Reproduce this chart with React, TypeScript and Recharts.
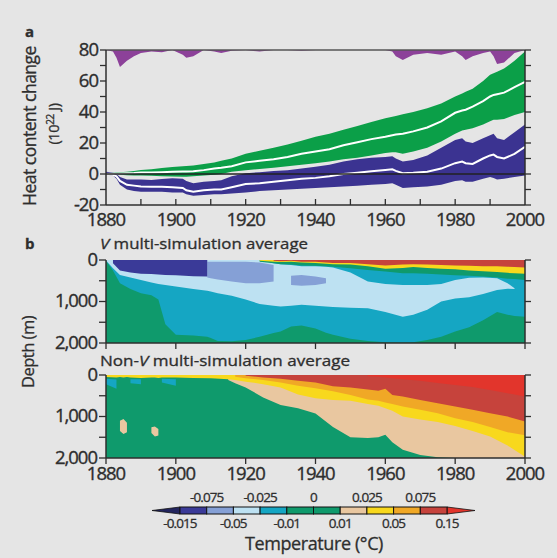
import React from 'react';
import { ComposedChart, Area, Line, XAxis, YAxis, ReferenceLine } from 'recharts';

const FONT = '"Open Sans", "Noto Sans", sans-serif';
const INK = '#2e2e2e';
const BG = '#e5e5e5';

// ---------- Panel a: heat content change (10^22 J) ----------
const A_YEARS = [1880,1882,1883,1884,1886,1888,1890,1893,1896,1899,1902,1903,1905,1908,1911,1913,1916,1920,1924,1928,1932,1936,1940,1944,1948,1952,1956,1960,1962,1963,1965,1968,1972,1976,1980,1982,1983,1985,1988,1990,1991,1992,1994,1997,2000];
const GREEN_LOW = [-0.5,-0.2,-0.2,-0.5,-0.8,-1,-1,-1.2,-1.5,-1.6,-1.7,-1.7,-1.5,-1,-0.5,0,1.5,2.5,3.2,4,5,6,7,8,9.5,10.5,12,13.5,14,14,13,14.5,17,21,26,28,28.5,29.5,32,34,35,35,35.5,38,40];
const GREEN_MEAN = [0,0.3,0.4,0.4,0.5,0.6,0.9,1,1.2,1.4,1.6,1.6,1.8,2.5,3.5,4,5,7.5,8.5,9.5,11,13,14.5,16,18.5,20.5,22.5,24,25,25.5,26,27.5,30,34,39.5,41,41.5,43.5,47,50,51,51.5,52.5,56,59.5];
const GREEN_HIGH = [0.8,1,1.1,1.2,1.5,2,2.6,3,3.8,4.5,5,5.2,5.5,6.5,7.5,8.5,10,13,15,17,19,21.5,24,26,28.5,31,33.5,36,37,37.5,38.5,40,42.5,45.5,50,52,53,55,60,64,65,66,68,73,79];
const BLUE_LOW = [-0.5,-1,-3,-7,-10,-11,-11.5,-11.5,-11.5,-12,-12,-13,-14,-13.5,-13,-13,-12.5,-12,-11,-10.5,-10,-9.5,-9,-8.5,-8,-7.5,-7,-6.5,-6,-7,-9,-8.5,-8,-7,-4.5,-4,-5,-5,-3,-2,-2.5,-3.5,-3,-2,-1];
const BLUE_MEAN = [0,-0.5,-1.5,-4.5,-7,-7.5,-8,-8.2,-8.2,-8.5,-9,-10.5,-11.5,-10.5,-10,-10,-8.5,-6.5,-6,-5,-4,-3,-2.5,-1.5,0,0.8,1.8,2.6,3,2,0.5,0.8,1.5,3.5,7,8,7,6.5,10,12,12.5,11,10,13,17.5];
const BLUE_HIGH = [1.5,1,0,-2,-3.5,-3.5,-3.6,-3.8,-3.2,-2.8,-3,-4.5,-6,-5,-4.5,-4,-1.5,0.5,1.2,2,2.5,3.5,4.7,6,8,9.5,10.5,11,11.5,10,8,9,12,17,22,23,21,20,23,25,26,23,22,27,32];
const VOLCANIC = [80,79,75,69,73,76,78,79,78.5,80,77,75,76,80,79,78,79.5,80,79,80,80,79.5,80,80,80,80,80,80,79,76,73.5,77,78,77,79,76,73.5,76,78,79,76,71,72,78,80];
const A_Y_TICKS = [-20,-10,0,10,20,30,40,50,60,70,80];
const A_X_TICKS = [1880,1890,1900,1910,1920,1930,1940,1950,1960,1970,1980,1990,2000];

const aData = A_YEARS.map((year, i) => ({
  year,
  green: [GREEN_LOW[i], GREEN_HIGH[i]],
  blue: [BLUE_LOW[i], BLUE_HIGH[i]],
  gm: GREEN_MEAN[i],
  bm: BLUE_MEAN[i],
  volc: [VOLCANIC[i], 80],
}));

// ---------- Panel b (top): V multi-simulation average, depth layers [top, bottom] in m ----------
type R = [number, number] | null;
const V_YEARS = [1880,1882,1884,1887,1890,1893,1895,1897,1900,1905,1909,1910,1912,1916,1920,1924,1928,1930,1933,1936,1940,1943,1945,1950,1955,1960,1965,1968,1972,1976,1980,1984,1988,1992,1995,1997,2000];
const V_CYAN: R[] = [[0,20],[0,250],[0,560],[0,700],[0,800],[0,850],[0,950],[0,1550],[0,1800],[0,1820],[0,1850],[0,1880],[0,1950],[0,1960],[0,1930],[0,1850],[0,1760],[0,1720],[0,1600],[0,1580],[0,1650],[0,1750],[0,1800],[0,1900],[0,1950],[0,1980],[0,1990],[0,1980],[0,1930],[0,1850],[0,1720],[0,1620],[0,1450],[0,1250],[0,1320],[0,1350],[0,1370]];
const V_PALE: R[] = [[0,10],[0,200],[0,360],[0,420],[0,480],[0,540],[0,580],[0,600],[0,640],[0,700],[0,740],[0,760],[0,800],[0,860],[0,950],[0,1060],[80,1100],[100,1120],[120,1100],[150,1080],[150,1100],[160,1120],[180,1130],[300,1150],[520,1160],[580,1250],[600,1370],[600,1320],[600,1200],[580,1000],[480,930],[430,900],[420,820],[440,720],[560,690],[680,700],null];
const V_LAVENDER: R[] = [null,null,null,null,null,null,null,null,null,null,[40,420],[40,440],[40,470],[40,520],[40,560],[60,560],[120,520],null,[380,600],[360,620],[400,600],[440,560],null,null,null,null,null,null,null,null,null,null,null,null,null,null,null];
const V_DARK: R[] = [null,[0,80],[0,250],[0,300],[0,330],[0,340],[0,350],[0,360],[0,370],[0,390],[0,400],null,null,null,null,null,null,null,null,null,null,null,null,null,null,null,null,null,null,null,null,null,null,null,null,null,null];
const V_GREEN_TOP: R[] = [null,null,null,null,null,null,null,null,null,null,null,null,null,null,null,[0,40],[0,80],[0,100],[0,110],[0,130],[0,140],[0,150],[0,160],[0,200],[0,240],[0,280],[0,320],[0,320],[0,330],[0,350],[0,370],[0,380],[0,400],[0,420],[0,450],[0,460],[0,480]];
const V_YELLOW: R[] = [null,null,null,null,null,null,null,null,null,null,null,null,null,null,null,[0,20],[0,40],[0,50],[0,40],[0,60],[0,70],[0,90],[0,100],[0,110],[0,150],[0,210],[0,190],[0,170],[0,190],[0,210],[0,220],[0,250],[0,270],[0,290],[0,310],[0,320],[0,330]];
const V_RED: R[] = [null,null,null,null,null,null,null,null,null,null,null,null,null,null,null,null,[0,20],[0,30],[0,20],[0,40],[0,40],[0,60],[0,70],[0,70],[0,100],[0,130],[0,110],[0,100],[0,110],[0,120],[0,130],[0,140],[0,150],[0,150],[0,160],[0,170],[0,180]];

const vData = V_YEARS.map((year, i) => ({
  year,
  cyan: V_CYAN[i], pale: V_PALE[i], lav: V_LAVENDER[i], dark: V_DARK[i],
  gtop: V_GREEN_TOP[i], yel: V_YELLOW[i], red: V_RED[i],
}));

// ---------- Panel b (bottom): Non-V multi-simulation average ----------
const NV_YEARS = [1880,1883,1884,1885,1886,1887,1890,1893,1894,1895,1896,1900,1905,1910,1915,1917,1920,1925,1930,1935,1940,1945,1950,1955,1958,1960,1962,1965,1970,1975,1980,1985,1990,1995,2000];
const NV_TAN: R[] = [null,null,[1100,1350],[1060,1420],[1150,1380],null,null,[1260,1400],[1240,1480],[1300,1460],null,null,null,null,[0,120],[0,200],[0,300],[0,540],[0,720],[0,800],[0,930],[0,1250],[0,1500],[0,1520],[0,1500],[0,1440],[0,1620],[0,1800],[0,1930],[0,1980],[0,2000],[0,2000],[0,2000],[0,2000],[0,2000]];
const NV_CYAN: R[] = [[90,220],[110,330],null,null,null,[100,200],[100,220],null,null,null,[90,180],[100,260],null,null,null,null,null,null,null,null,null,null,null,null,null,null,null,null,null,null,null,null,null,null,null];
const NV_YELLOW: R[] = [[0,50],[0,60],[0,50],[0,60],[0,50],[0,60],[0,70],[0,60],[0,60],[0,70],[0,60],[0,60],[0,70],[0,80],[0,100],[0,120],[0,160],[0,220],[0,300],[0,470],[0,560],[0,600],[0,620],[0,700],[0,740],[0,800],[0,860],[0,1000],[0,1070],[0,1130],[0,1230],[0,1350],[0,1480],[0,1700],[0,1970]];
const NV_ORANGE: R[] = [null,null,null,null,null,null,null,null,null,null,null,null,null,null,null,[0,40],[0,80],[0,120],[0,180],[0,260],[0,320],[0,390],[0,480],[0,590],[0,620],[0,660],[0,700],[0,760],[0,840],[0,920],[0,1040],[0,1130],[0,1250],[0,1380],[0,1450]];
const NV_DARK_RED: R[] = [null,null,null,null,null,null,null,null,null,null,null,null,null,null,null,null,[0,20],[0,60],[0,90],[0,140],[0,180],[0,270],[0,300],[0,350],[0,380],[0,330],[0,480],[0,520],[0,600],[0,680],[0,760],[0,840],[0,920],[0,1000],[0,1120]];
const NV_BRIGHT_RED: R[] = [null,null,null,null,null,null,null,null,null,null,null,null,null,null,null,null,null,null,null,null,null,null,null,[0,30],[0,40],[0,60],[0,80],[0,100],[0,140],[0,190],[0,240],[0,290],[0,360],[0,440],[0,520]];

const nvData = NV_YEARS.map((year, i) => ({
  year,
  tan: NV_TAN[i], cyan: NV_CYAN[i], yel: NV_YELLOW[i], ora: NV_ORANGE[i],
  dred: NV_DARK_RED[i], bred: NV_BRIGHT_RED[i],
}));

const DEPTH_TICKS = [0, 500, 1000, 1500, 2000];
const B_X_TICKS = [1880, 1900, 1920, 1940, 1960, 1980, 2000];

// ---------- Colour scale ----------
const C = {
  dark: '#3a3a98', lav: '#85a0d6', pale: '#bde1f2', cyan: '#15a6c3', green: '#0f9a6c',
  tan: '#e9c7a0', yellow: '#f8d81d', orange: '#f0a826', dred: '#c6433c', bred: '#e2352c',
};
const CB_COLORS = [C.dark, C.lav, C.pale, C.cyan, C.green, C.green, C.tan, C.yellow, C.orange, C.dred];
const CB_TOP_LABELS = ['-0.075', '-0.025', '0', '0.025', '0.075'];
const CB_BOTTOM_LABELS = ['-0.015', '-0.05', '-0.01', '0.01', '0.05', '0.15'];

const tickStyle: React.CSSProperties = {
  fontFamily: FONT, fontSize: 18.5, fill: INK, letterSpacing: -1, stroke: INK, strokeWidth: 0.35,
};

function HeatTick(props: any) {
  const { x, y, payload } = props;
  const v = payload.value;
  const major = v % 20 === 0;
  return (
    <g>
      <line x1={x - 6} x2={x} y1={y} y2={y} stroke={INK} strokeWidth={1.3} />
      {major && <text x={x - 8} y={y + 5.5} textAnchor="end" style={tickStyle}>{v}</text>}
    </g>
  );
}
function RightTick(props: any) {
  const { x, y } = props;
  return <line x1={x} x2={x + 6} y1={y} y2={y} stroke={INK} strokeWidth={1.3} />;
}
function YearTickIn(props: any) {
  const { x, y, payload } = props;
  const v = payload.value;
  return (
    <g>
      {v !== 1880 && v !== 2000 && <line x1={x} x2={x} y1={y} y2={y - 6} stroke={INK} strokeWidth={1.3} />}
      {v % 20 === 0 && <text x={x} y={y + 21} textAnchor="middle" style={tickStyle}>{v}</text>}
    </g>
  );
}
function DepthTick(props: any) {
  const { x, y, payload } = props;
  const v = payload.value;
  const show = v % 1000 === 0;
  return (
    <g>
      <line x1={x - 7} x2={x} y1={y} y2={y} stroke={INK} strokeWidth={1.3} />
      {show && <text x={x - 9} y={y + 5.5} textAnchor="end" style={tickStyle}>{v === 0 ? '0' : v.toLocaleString('en-US')}</text>}
    </g>
  );
}
function YearTickOut(props: any) {
  const { x, y } = props;
  return <line x1={x} x2={x} y1={y} y2={y + 6} stroke={INK} strokeWidth={1.3} />;
}
function YearTickOutLabel(props: any) {
  const { x, y, payload } = props;
  return (
    <g>
      <line x1={x} x2={x} y1={y} y2={y + 6} stroke={INK} strokeWidth={1.3} />
      <text x={x} y={y + 22} textAnchor="middle" style={tickStyle}>{payload.value}</text>
    </g>
  );
}

const axisLine = { stroke: INK, strokeWidth: 1.5 };

function band(key: string, color: string) {
  return (
    <Area key={key} type="linear" dataKey={key} fill={color} fillOpacity={1} stroke="none"
      isAnimationActive={false} dot={false} activeDot={false} connectNulls={false} />
  );
}

function DepthPanel({ data, children, labels, height, bottom }: any) {
  return (
    <ComposedChart width={557} height={height} data={data} margin={{ top: 30, right: 12, bottom, left: 46 }}>
      <XAxis dataKey="year" type="number" domain={[1880, 2000]} ticks={B_X_TICKS} interval={0}
        tickSize={0} tickMargin={0} height={height - bottom - 30 - 83} axisLine={axisLine}
        tick={labels ? YearTickOutLabel : YearTickOut} allowDataOverflow />
      <YAxis yAxisId="d" type="number" domain={[0, 2000]} reversed ticks={DEPTH_TICKS} interval={0}
        tickSize={0} tickMargin={0} width={60} axisLine={axisLine} tick={DepthTick} allowDataOverflow />
      <YAxis yAxisId="r" orientation="right" type="number" domain={[0, 2000]} reversed ticks={DEPTH_TICKS}
        interval={0} tickSize={0} tickMargin={0} width={20} axisLine={axisLine} tick={RightTick} allowDataOverflow />
      {children}
    </ComposedChart>
  );
}

function areaOn(key: string, color: string) {
  return (
    <Area key={key} yAxisId="d" type="linear" dataKey={key} fill={color} fillOpacity={1} stroke="none"
      isAnimationActive={false} dot={false} activeDot={false} connectNulls={false} />
  );
}

const txt: React.CSSProperties = { fontFamily: FONT, fill: INK, stroke: INK, strokeWidth: 0.3 };

export default function App() {
  return (
    <div style={{ position: 'absolute', left: 0, top: 0, width: 557, height: 558, background: BG, overflow: 'hidden' }}>
      <div style={{ position: 'absolute', left: 0, top: 0 }}>
        <ComposedChart width={557} height={242} data={aData} margin={{ top: 50, right: 12, bottom: 12, left: 46 }}>
          <XAxis dataKey="year" type="number" domain={[1880, 2000]} ticks={A_X_TICKS} interval={0}
            tickSize={0} tickMargin={0} height={25} axisLine={axisLine} tick={YearTickIn} allowDataOverflow />
          <YAxis type="number" domain={[-20, 80]} ticks={A_Y_TICKS} interval={0} tickSize={0} tickMargin={0}
            width={60} axisLine={axisLine} tick={HeatTick} allowDataOverflow />
          <YAxis yAxisId="r" orientation="right" type="number" domain={[-20, 80]} ticks={A_Y_TICKS} interval={0}
            tickSize={0} tickMargin={0} width={20} axisLine={axisLine} tick={RightTick} allowDataOverflow />
          {band('volc', '#8c4199')}
          {band('green', '#0b9f48')}
          {band('blue', '#3b3391')}
          <Line type="linear" dataKey="gm" stroke="#ffffff" strokeWidth={2} dot={false} activeDot={false} isAnimationActive={false} />
          <Line type="linear" dataKey="bm" stroke="#ffffff" strokeWidth={2} dot={false} activeDot={false} isAnimationActive={false} />
          <ReferenceLine y={0} stroke="#222" strokeWidth={1.3} />
          <ReferenceLine y={80} stroke="#555" strokeWidth={1.3} />
        </ComposedChart>
      </div>
      <div style={{ position: 'absolute', left: 0, top: 230 }}>
        <DepthPanel data={vData} height={130} bottom={0} labels={false}>
          <Area yAxisId="d" type="linear" dataKey={() => [0, 2000]} fill={C.green} fillOpacity={1} stroke="none"
            isAnimationActive={false} dot={false} activeDot={false} />
          {areaOn('cyan', C.cyan)}
          {areaOn('pale', C.pale)}
          {areaOn('lav', C.lav)}
          {areaOn('dark', C.dark)}
          {areaOn('gtop', C.green)}
          {areaOn('yel', C.yellow)}
          {areaOn('red', C.dred)}
        </DepthPanel>
      </div>
      <div style={{ position: 'absolute', left: 0, top: 345 }}>
        <DepthPanel data={nvData} height={148} bottom={8} labels={true}>
          <Area yAxisId="d" type="linear" dataKey={() => [0, 2000]} fill={C.green} fillOpacity={1} stroke="none"
            isAnimationActive={false} dot={false} activeDot={false} />
          {areaOn('tan', C.tan)}
          {areaOn('cyan', C.cyan)}
          {areaOn('yel', C.yellow)}
          {areaOn('ora', C.orange)}
          {areaOn('dred', C.dred)}
          {areaOn('bred', C.bred)}
        </DepthPanel>
      </div>
      <svg width={557} height={558} style={{ position: 'absolute', left: 0, top: 0, pointerEvents: 'none' }}>
        <g style={txt}>
          <text x={25} y={37} fontSize={15} fontWeight="bold">a</text>
          <text x={25} y={249} fontSize={15} fontWeight="bold">b</text>
          <text transform="translate(36,126) rotate(-90)" textAnchor="middle" fontSize={17.5} letterSpacing={-0.5}>Heat content change</text>
          <text transform="translate(59,124) rotate(-90)" textAnchor="middle" fontSize={14.5} letterSpacing={-0.4}>
            (10<tspan dy={-5} fontSize={10}>22</tspan><tspan dy={5}> J)</tspan>
          </text>
          <text transform="translate(34,352) rotate(-90)" textAnchor="middle" fontSize={16.5} letterSpacing={-0.5}>Depth (m)</text>
          <text x={100} y={249} fontSize={14.5} textLength={208} lengthAdjust="spacingAndGlyphs">
            <tspan fontStyle="italic">V</tspan> multi-simulation average
          </text>
          <text x={100} y={366} fontSize={14.5} textLength={250} lengthAdjust="spacingAndGlyphs">
            Non-<tspan fontStyle="italic">V</tspan> multi-simulation average
          </text>
          {/* colour bar */}
          <polygon points="152,510.5 180,507 180,514" fill="#23255e" stroke="#111" strokeWidth={0.8} />
          <polygon points="475,510.5 447,507 447,514" fill={C.bred} stroke="#111" strokeWidth={0.8} />
          {CB_COLORS.map((col, i) => (
            <rect key={i} x={180 + i * 26.7} y={507} width={26.7} height={7} fill={col} stroke="#111" strokeWidth={1} />
          ))}
          {CB_TOP_LABELS.map((l, i) => (
            <text key={'t' + i} x={180 + (2 * i + 1) * 26.7} y={502} fontSize={13.5} textAnchor="middle" letterSpacing={-0.9}>{l}</text>
          ))}
          {CB_BOTTOM_LABELS.map((l, i) => (
            <text key={'b' + i} x={180 + 2 * i * 26.7} y={528} fontSize={13.5} textAnchor="middle" letterSpacing={-0.9}>{l}</text>
          ))}
          <text x={314} y={550} fontSize={18} textAnchor="middle" letterSpacing={-0.4}>Temperature (°C)</text>
        </g>
      </svg>
    </div>
  );
}
